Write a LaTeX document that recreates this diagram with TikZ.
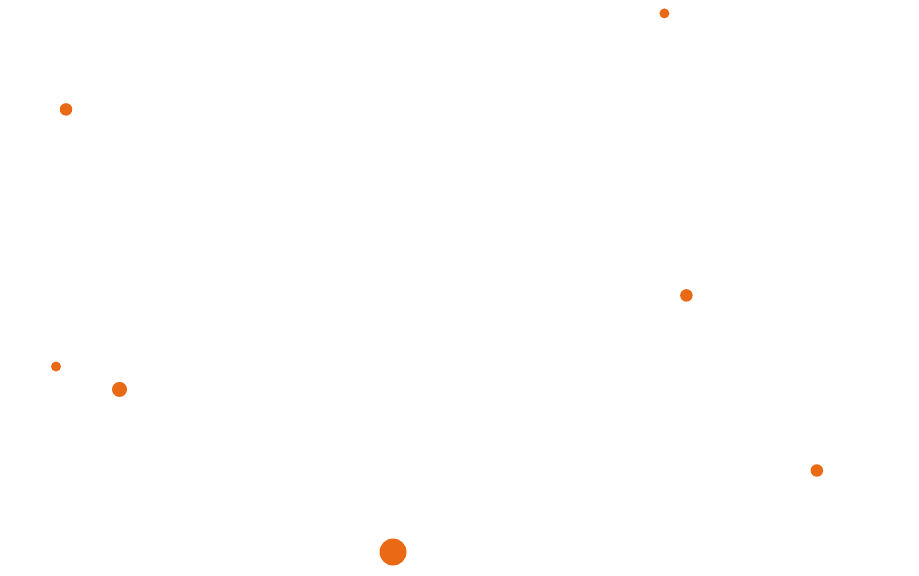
\documentclass[tikz,border=0pt]{standalone}
\usepackage{tikz}
\definecolor{dotorange}{RGB}{234,105,20}
\tikzset{
  dot/.style={circle, fill=dotorange, draw=none, inner sep=0pt},
  small dot/.style={dot, minimum size=0.2cm},
  medium dot/.style={dot, minimum size=0.25cm},
  large dot/.style={dot, minimum size=0.3cm},
  huge dot/.style={dot, minimum size=0.54cm},
}

\begin{document}
\begin{tikzpicture}[x=0.02cm, y=-0.02cm]
    \useasboundingbox (0,0) rectangle (919,575);
    \node (TopDot) [small dot] at (664.4,13.4) {};
    \node (LeftDot) [medium dot] at (66,109.4) {};
    \node (MiddleDot) [medium dot] at (686.4,295.4) {};
    \node (LowLeftDot) [small dot] at (56,366.5) {};
    \node (NextDot) [large dot] at (119.5,389.4) {};
    \node (RightDot) [medium dot] at (816.8,470.5) {};
    \node (BottomDot) [huge dot] at (393,552) {};
\end{tikzpicture}
\end{document}
